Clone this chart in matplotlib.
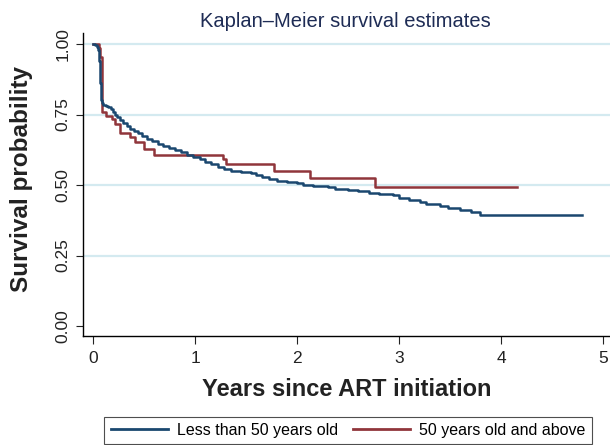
import matplotlib
matplotlib.use("Agg")
import matplotlib.pyplot as plt

plt.rcParams['font.family'] = ['Liberation Sans', 'DejaVu Sans']

# Kaplan-Meier step points: (time in years, survival after step)
young_t = [0, 0.02, 0.035, 0.045, 0.055, 0.06, 0.065, 0.07, 0.075, 0.08, 0.085,
           0.09, 0.10, 0.12, 0.14, 0.17, 0.19, 0.21, 0.23, 0.26, 0.29, 0.33,
           0.36, 0.40, 0.44, 0.48, 0.53, 0.58, 0.63, 0.68, 0.74, 0.80, 0.86,
           0.92, 0.98, 1.05, 1.10, 1.15, 1.22, 1.28, 1.35, 1.45, 1.55, 1.60,
           1.65, 1.72, 1.80, 1.90, 2.00, 2.06, 2.15, 2.30, 2.37, 2.50, 2.60,
           2.70, 2.80, 2.94, 3.00, 3.10, 3.20, 3.26, 3.40, 3.48, 3.60, 3.70,
           3.79, 4.79]
young_s = [1.0, 0.995, 0.99, 0.98, 0.965, 0.94, 0.90, 0.86, 0.82, 0.80, 0.795,
           0.79, 0.785, 0.78, 0.775, 0.768, 0.758, 0.75, 0.742, 0.73, 0.72, 0.708,
           0.70, 0.692, 0.683, 0.673, 0.663, 0.655, 0.646, 0.638, 0.63, 0.624, 0.617,
           0.608, 0.60, 0.591, 0.582, 0.575, 0.565, 0.558, 0.551, 0.547, 0.542, 0.536,
           0.53, 0.52, 0.515, 0.512, 0.508, 0.50, 0.497, 0.493, 0.487, 0.484, 0.478,
           0.473, 0.468, 0.463, 0.455, 0.447, 0.44, 0.432, 0.425, 0.417, 0.41, 0.406,
           0.393, 0.393]

old_t = [0, 0.055, 0.065, 0.085, 0.127, 0.183, 0.216, 0.258, 0.356, 0.405,
         0.493, 0.591, 1.27, 1.30, 1.77, 2.127, 2.758, 4.154]
old_s = [1.0, 0.985, 0.955, 0.759, 0.745, 0.733, 0.718, 0.686, 0.670, 0.652,
         0.629, 0.607, 0.593, 0.573, 0.551, 0.526, 0.493, 0.493]

x_ticks = [0, 1, 2, 3, 4, 5]
y_ticks = [0.0, 0.25, 0.5, 0.75, 1.0]
y_grid = [0.25, 0.5, 0.75, 1.0]
labels = ["Less than 50 years old", "50 years old and above"]

W, H = 610, 445
fig = plt.figure(figsize=(W / 100, H / 100), dpi=100)
ax = fig.add_axes([83.3 / W, 1 - 335.7 / H, 1 - 83.3 / W, (335.7 - 33.3) / H])

for g in y_grid:
    ax.axhline(g, color='#d4eaf0', lw=1.6, zorder=1)

ax.step(young_t, young_s, where='post', color='#1a476f', lw=1.8, zorder=3,
        label=labels[0])
ax.step(old_t, old_s, where='post', color='#90353b', lw=1.8, zorder=2,
        label=labels[1])

ax.set_xlim(-0.098, 5.066)
ax.set_ylim(-0.0344, 1.038)
ax.set_xticks(x_ticks)
ax.set_yticks(y_ticks)
ax.set_yticklabels(["%.2f" % v for v in y_ticks], rotation=90, va='center')
ax.tick_params(axis='x', length=6, width=0.8, pad=5, labelsize=12.5,
               colors='#222222')
ax.tick_params(axis='y', length=5, width=0.8, pad=4, labelsize=12.5,
               colors='#222222')
for s in ['top', 'right']:
    ax.spines[s].set_visible(False)
for s in ['left', 'bottom']:
    ax.spines[s].set_color('black')
    ax.spines[s].set_linewidth(1.0)

fig.text(345 / W, 1 - 27.3 / H, "Kaplan\u2013Meier survival estimates",
         ha='center', va='baseline', fontsize=14.5, color='#1e2c55')
fig.text(347 / W, 1 - 396 / H, "Years since ART initiation", ha='center',
         va='baseline', fontsize=17, fontweight='bold', color='#222222')
fig.text(22 / W, 1 - 178.5 / H, "Survival probability", ha='center',
         va='center', rotation=90, fontsize=17.5, fontweight='bold',
         color='#222222')

leg = fig.legend(loc='upper center', bbox_to_anchor=(348 / W, 1 - 416.7 / H),
                 ncol=2, fontsize=11.5, frameon=True, fancybox=False,
                 handlelength=3.6, handletextpad=0.55, columnspacing=0.9,
                 borderpad=0.4, borderaxespad=0)
leg.get_frame().set_edgecolor('#222222')
leg.get_frame().set_linewidth(0.8)
for line in leg.get_lines():
    line.set_linewidth(2.0)

fig.savefig("out.png", dpi=100)
